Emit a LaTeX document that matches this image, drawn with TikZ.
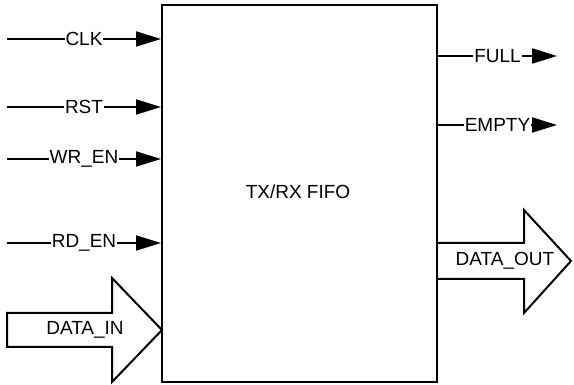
\documentclass[tikz,border=0pt]{standalone}
\usepackage{fontspec}
\setmainfont{Liberation Sans}
\usetikzlibrary{arrows.meta, calc, positioning}

\begin{document}
\begin{tikzpicture}[x=1pt, y=-1pt, font=\fontsize{19}{22}\selectfont,
		sig/.style={line width=2pt, -{Triangle[length=25pt,width=15pt]}},
		lbl/.style={fill=white, inner sep=1pt},
		bus/.style={line width=2pt, fill=white}]
	\useasboundingbox (0,0) rectangle (574,385);
	% wide buses
	\draw[bus] (7,313) -- (112,313) -- (112,278) -- (162,330) -- (112,382) -- (112,347) -- (7,347) -- cycle;
	\node (datain) at (85,330) {DATA\_IN};
	\draw[bus] (437,243) -- (524,243) -- (524,210) -- (571,261) -- (524,313) -- (524,279) -- (437,279);
	\node (dataout) at (505,261) {DATA\_OUT};
	% fifo block
	\node[draw, line width=2pt, minimum width=275pt, minimum height=377pt, inner sep=0pt] (fifo) at (299.5,193.5) {};
	\node (title) at (298,192) {TX/RX FIFO};
	% single signals
	\foreach \name/\txt/\y in {clk/CLK/39, rst/RST/107, wren/WR\_EN/159, rden/RD\_EN/243} {
		\coordinate (\name) at (7,\y);
		\draw[sig] (\name) -- (\name -| fifo.west) node[midway, lbl] {\txt};
	}
	\foreach \name/\txt/\y in {full/FULL/56, empty/EMPTY/125} {
		\coordinate (\name) at (557,\y);
		\draw[sig] (\name -| fifo.east) -- (\name) node[midway, lbl] {\txt};
	}
\end{tikzpicture}
\end{document}
